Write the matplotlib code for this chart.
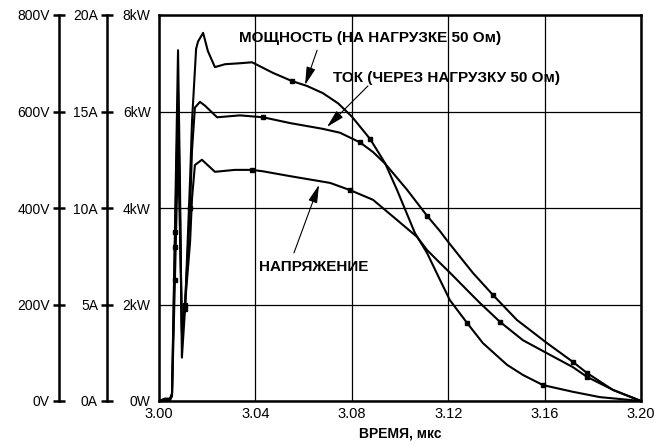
import numpy as np
import matplotlib.pyplot as plt

plt.rcParams['font.family'] = ['Liberation Sans', 'DejaVu Sans']

# время, мкс
t_p = [3.000, 3.0025, 3.0046, 3.0054, 3.0066, 3.0079, 3.0087, 3.0095, 3.0108, 3.0129,
       3.0137, 3.0154, 3.0162, 3.0183, 3.0203, 3.0232, 3.0274, 3.0336, 3.0386, 3.0402,
       3.0473, 3.0552, 3.0614, 3.0680, 3.0743, 3.0801, 3.0876, 3.0938, 3.0988, 3.1062,
       3.1112, 3.1166, 3.1207, 3.1278, 3.1344, 3.1444, 3.1510, 3.1593, 3.1718, 3.1830,
       3.2000]
# мощность, кВт
p_kw = [0, 0.05, 0.05, 0.15, 3.5, 7.27, 4.5, 0.9, 1.9, 4.6,
        5.8, 7.3, 7.45, 7.63, 7.25, 6.92, 6.98, 7.0, 7.02, 6.98,
        6.80, 6.63, 6.53, 6.38, 6.17, 5.89, 5.43, 4.93, 4.37, 3.48,
        3.07, 2.51, 2.09, 1.62, 1.20, 0.75, 0.54, 0.33, 0.19, 0.08,
        0]

t_i = [3.000, 3.0025, 3.0046, 3.0054, 3.0066, 3.0079, 3.0087, 3.0095, 3.0108, 3.0129,
       3.0137, 3.0149, 3.0170, 3.0191, 3.0241, 3.0336, 3.0432, 3.0544, 3.0680, 3.0751,
       3.0834, 3.0888, 3.0938, 3.1029, 3.1112, 3.1166, 3.1195, 3.1249, 3.1303, 3.1386,
       3.1485, 3.1610, 3.1718, 3.1776, 3.1884, 3.2000]
# ток, А
i_a = [0, 0.1, 0.1, 0.4, 8, 16, 10, 3.5, 5, 10,
       13, 15.2, 15.5, 15.3, 14.7, 14.8, 14.7, 14.4, 14.1, 13.9,
       13.4, 12.9, 12.3, 10.95, 9.6, 8.8, 8.32, 7.47, 6.63, 5.49,
       4.20, 3.0, 2.02, 1.45, 0.57, 0]

t_u = [3.000, 3.0025, 3.0046, 3.0054, 3.0066, 3.0079, 3.0087, 3.0095, 3.0108, 3.0129,
       3.0137, 3.0149, 3.0178, 3.0232, 3.0315, 3.0386, 3.0432, 3.0544, 3.0710, 3.0793,
       3.0888, 3.0988, 3.1071, 3.1112, 3.1166, 3.1207, 3.1290, 3.1332, 3.1415, 3.1510,
       3.1610, 3.1718, 3.1776, 3.1884, 3.2000]
# напряжение, В
u_v = [0, 2, 2, 10, 250, 520, 350, 150, 200, 330,
       420, 489, 500, 475, 479, 479, 476, 466, 452, 437,
       417, 375, 340, 313, 286, 266, 224, 203, 164, 126,
       99, 70, 50, 23, 0]

# индексы точек с маркерами
mk_p = [4, 8, 21, 26, 33, 37]
mk_i = [4, 9, 16, 20, 24, 29, 32, 33]
mk_u = [4, 8, 15, 19, 28, 32]

xticks = [3.00, 3.04, 3.08, 3.12, 3.16, 3.20]
kw_ticks = [0, 2, 4, 6, 8]
kw_labels = ["0W", "2kW", "4kW", "6kW", "8kW"]
v_ticks = [0, 200, 400, 600, 800]
v_labels = ["0V", "200V", "400V", "600V", "800V"]
a_ticks = [0, 5, 10, 15, 20]
a_labels = ["0A", "5A", "10A", "15A", "20A"]

fig = plt.figure(figsize=(6.65, 4.47), dpi=100)
ax = fig.add_axes([159/665, 46/447, 482/665, 386/447])

lw = 1.5
ax.plot(t_p, p_kw, color='k', lw=lw, marker='s', ms=3.5, markevery=mk_p)
ax.plot(t_i, np.array(i_a) / 2.5, color='k', lw=lw, marker='s', ms=3.5, markevery=mk_i)
ax.plot(t_u, np.array(u_v) / 100, color='k', lw=lw, marker='s', ms=3.5, markevery=mk_u)

ax.set_xlim(3.0, 3.2)
ax.set_ylim(0, 8)
ax.set_xticks(xticks)
ax.set_xticklabels(["%.2f" % x for x in xticks], fontsize=10.5)
ax.set_yticks(kw_ticks)
ax.set_yticklabels(kw_labels, fontsize=10)
ax.tick_params(axis='both', length=0)
ax.tick_params(axis='y', pad=6)
ax.tick_params(axis='x', pad=4)
ax.grid(True, color='k', lw=0.9)
for s in ax.spines.values():
    s.set_linewidth(1.8)
ax.set_xlabel("ВРЕМЯ, мкс", fontsize=10, fontweight='bold', labelpad=4)

# дополнительные оси слева
for pos, ticks, labels, top in [(-0.2075, v_ticks, v_labels, 800),
                                (-0.1079, a_ticks, a_labels, 20)]:
    axx = ax.twinx()
    axx.set_ylim(0, top)
    for name in ['top', 'right', 'bottom']:
        axx.spines[name].set_visible(False)
    axx.spines['left'].set_position(('axes', pos))
    axx.spines['left'].set_linewidth(1.8)
    axx.yaxis.set_ticks_position('left')
    axx.yaxis.set_label_position('left')
    axx.set_yticks(ticks)
    axx.set_yticklabels(labels, fontsize=10)
    axx.tick_params(axis='y', direction='inout', length=9, width=1.8, pad=2)

arrow = dict(arrowstyle='-|>,head_length=1.1,head_width=0.28', color='k', lw=0.8,
             mutation_scale=10, shrinkA=0, shrinkB=0)
ax.text(3.0876, 7.52, "МОЩНОСТЬ (НА НАГРУЗКЕ 50 Ом)", fontsize=11, fontweight='bold',
        ha='center', va='center')
ax.annotate("", xy=(3.0606, 6.55), xytext=(3.0656, 7.27), arrowprops=arrow)
ax.text(3.1195, 6.69, "ТОК (ЧЕРЕЗ НАГРУЗКУ 50 Ом)", fontsize=11, fontweight='bold',
        ha='center', va='center')
ax.annotate("", xy=(3.0697, 5.68), xytext=(3.0867, 6.53), arrowprops=arrow)
ax.text(3.0643, 2.78, "НАПРЯЖЕНИЕ", fontsize=11, fontweight='bold',
        ha='center', va='center')
ax.annotate("", xy=(3.0664, 4.48), xytext=(3.0560, 3.07), arrowprops=arrow)

fig.savefig("out.png", dpi=100)
